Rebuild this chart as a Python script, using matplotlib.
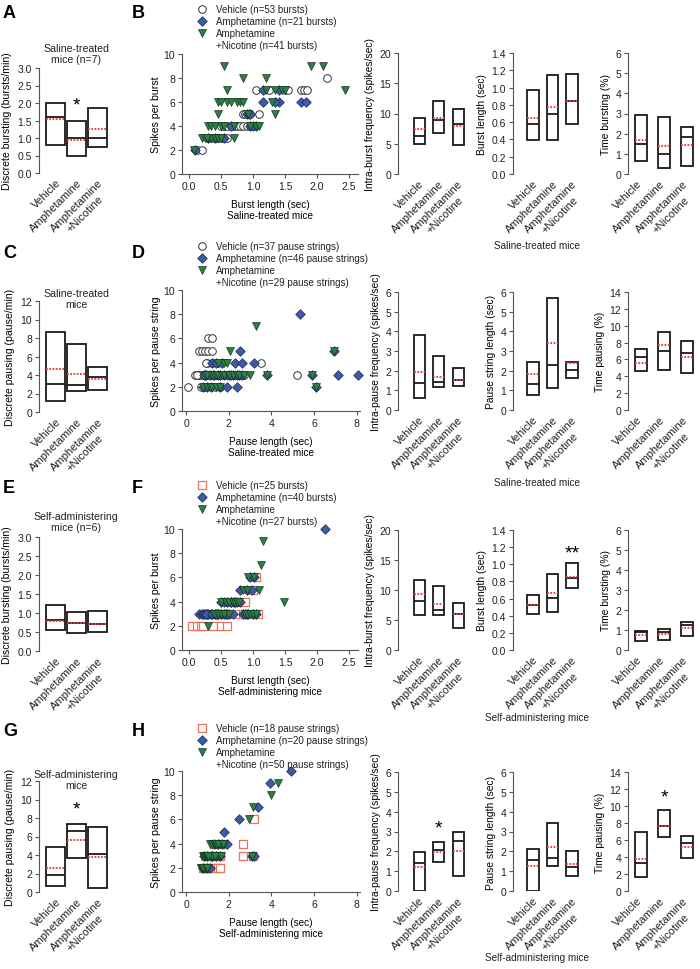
import numpy as np
import matplotlib
matplotlib.use("Agg")
import matplotlib.pyplot as plt
from matplotlib.lines import Line2D
from matplotlib.transforms import ScaledTranslation

plt.rcParams['font.family'] = ['Liberation Sans', 'DejaVu Sans']
plt.rcParams['text.color'] = '#222222'

# ---------------- data ----------------
groups = ['Vehicle', 'Amphetamine', 'Amphetamine\n+Nicotine']

# box panels: low, high, median, mean
A_low, A_high, A_med, A_mean = [0.8, 0.5, 0.75], [2.0, 1.5, 1.87], [1.6, 1.0, 1.0], [1.55, 0.95, 1.27]
C_low, C_high, C_med, C_mean = [1.2, 2.3, 2.4], [8.6, 7.3, 4.9], [3.0, 2.9, 3.8], [4.6, 4.1, 3.6]
E_low, E_high, E_med, E_mean = [0.55, 0.47, 0.5], [1.2, 1.03, 1.05], [0.82, 0.75, 0.7], [0.78, 0.75, 0.72]
G_low, G_high, G_med, G_mean = [0.6, 3.7, 0.4], [4.9, 7.3, 7.0], [1.8, 6.6, 4.1], [2.6, 5.6, 3.8]

# saline, bursts
sb_freq = ([5.0, 6.7, 4.8], [9.2, 12.0, 10.8], [6.2, 8.9, 8.3], [7.5, 9.2, 7.9])
sb_len = ([0.39, 0.39, 0.58], [0.97, 1.14, 1.16], [0.58, 0.70, 0.85], [0.65, 0.77, 0.85])
sb_time = ([0.65, 0.32, 0.42], [2.95, 2.83, 2.35], [1.47, 1.0, 1.85], [1.68, 1.37, 1.45])
# saline, pauses
sp_freq = ([0.6, 1.15, 1.2], [3.8, 2.75, 2.15], [1.35, 1.4, 1.55], [1.95, 1.7, 1.55])
sp_len = ([0.75, 1.1, 1.65], [2.45, 5.7, 2.45], [1.3, 2.28, 2.02], [1.85, 3.4, 2.4])
sp_time = ([4.6, 4.8, 4.4], [7.2, 9.2, 8.2], [6.3, 7.0, 6.75], [5.6, 7.7, 6.3])
# self-administering, bursts
ab_freq = ([5.9, 5.9, 3.7], [11.7, 10.6, 7.8], [8.2, 6.6, 6.0], [9.3, 7.6, 6.0])
ab_len = ([0.42, 0.44, 0.72], [0.64, 0.89, 1.01], [0.53, 0.61, 0.84], [0.52, 0.66, 0.85])
ab_time = ([0.45, 0.5, 0.7], [0.95, 1.05, 1.38], [0.9, 0.88, 1.25], [0.75, 0.78, 1.08])
# self-administering, pauses
ap_freq = ([0.0, 1.45, 0.75], [1.95, 2.45, 2.95], [1.4, 2.05, 2.5], [1.2, 1.95, 2.0])
ap_len = ([0.0, 1.25, 0.75], [2.1, 3.42, 2.02], [1.55, 1.65, 1.2], [1.25, 2.2, 1.35])
ap_time = ([1.6, 6.3, 3.9], [6.9, 9.5, 6.5], [3.3, 7.6, 5.6], [3.8, 7.6, 5.2])

# scatter B (burst length, spikes per burst), saline
B_veh_x = [0.13, 0.2, 0.3, 0.35, 0.4, 0.45, 0.5, 0.55, 0.6, 0.5, 0.55, 0.6, 0.65, 0.7, 0.75, 0.8,
           0.85, 0.9, 0.95, 0.85, 0.9, 0.95, 1.1, 1.05, 1.25, 1.5, 1.55, 1.75, 1.8, 1.85, 2.15, 0.88, 0.92]
B_veh_y = [2, 2, 3, 3, 3, 3, 3, 3, 3, 4, 4, 4, 4, 4, 4, 4,
           4, 4, 4, 5, 5, 5, 5, 7, 7, 7, 7, 7, 7, 7, 8, 5, 5]
B_amp_x = [0.1, 0.55, 0.65, 0.95, 1.0, 1.05, 0.9, 0.93, 1.15, 1.4, 1.75, 1.82, 1.15, 1.4, 0.3, 0.4, 0.95, 1.35]
B_amp_y = [2, 3, 4, 4, 4, 4, 5, 5, 6, 6, 6, 6, 7, 7, 3, 3, 5, 6]
B_an_x = [0.07, 0.2, 0.25, 0.3, 0.35, 0.4, 0.45, 0.5, 0.7, 0.3, 0.35, 0.4, 0.5, 0.55, 1.05, 1.1, 0.95,
          0.45, 0.92, 0.6, 0.65, 0.75, 0.8, 0.85, 0.45, 0.5, 1.3, 0.6, 1.2, 1.35, 1.45, 2.43, 0.85, 1.2,
          1.35, 0.55, 1.9, 2.1, 0.7, 1.5, 0.28]
B_an_y = [2, 3, 3, 3, 3, 3, 3, 3, 3, 4, 4, 4, 4, 4, 4, 4, 4,
          5, 5, 6, 6, 6, 6, 6, 6, 6, 6, 7, 7, 7, 7, 7, 8, 8,
          5, 9, 9, 9, 4, 7, 3]

# scatter D (pause length, spikes per pause string), saline
D_veh_x = [0.1, 0.7, 0.9, 1.35, 1.6, 0.4, 0.55, 0.7, 0.85, 1.0, 1.2, 1.5, 1.7, 1.9, 2.0, 2.2, 2.5, 2.7,
           5.2, 1.0, 1.2, 1.5, 3.5, 0.6, 0.75, 0.9, 1.05, 1.2, 1.05, 1.2, 0.8, 1.1, 2.6, 0.95, 0.5, 1.4, 2.3]
D_veh_y = [2, 2, 2, 2, 2, 3, 3, 3, 3, 3, 3, 3, 3, 3, 3, 3, 3, 3,
           3, 4, 4, 4, 4, 5, 5, 5, 5, 5, 6, 6, 3, 3, 3, 4, 3, 3, 3]
D_amp_x = [0.8, 1.0, 1.15, 1.6, 1.9, 2.4, 6.1, 0.9, 0.95, 1.1, 1.3, 1.5, 1.6, 1.8, 2.0, 2.2, 2.4, 2.6,
           3.8, 5.9, 7.1, 8.05, 1.2, 1.4, 1.7, 2.3, 2.6, 3.2, 2.55, 6.95, 5.35, 0.85, 1.25, 2.1, 2.5]
D_amp_y = [2, 2, 2, 2, 2, 2, 2, 3, 3, 3, 3, 3, 3, 3, 3, 3, 3, 3,
           3, 3, 3, 3, 4, 4, 4, 4, 4, 4, 5, 5, 8, 3, 3, 3, 3]
D_an_x = [0.8, 1.0, 1.1, 1.2, 1.4, 1.6, 6.1, 0.9, 1.0, 1.2, 1.3, 1.4, 1.5, 1.7, 1.8, 2.0, 2.2, 2.4,
          2.5, 2.7, 3.0, 3.8, 5.9, 1.5, 1.8, 1.9, 2.05, 6.95, 3.3]
D_an_y = [2, 2, 2, 2, 2, 2, 2, 3, 3, 3, 3, 3, 3, 3, 3, 3, 3, 3,
          3, 3, 3, 3, 3, 4, 4, 4, 5, 5, 7]

# scatter F (burst length, spikes per burst), self-administering
F_veh_x = [0.05, 0.12, 0.18, 0.22, 0.38, 0.5, 0.6, 0.25, 0.3, 0.35, 0.4, 0.45, 0.5, 0.55, 0.6, 0.78,
           0.85, 0.95, 1.05, 1.08, 0.65, 0.7, 0.88, 1.0, 1.05]
F_veh_y = [2, 2, 2, 2, 2, 2, 2, 3, 3, 3, 3, 3, 3, 3, 3, 3,
           3, 3, 3, 3, 4, 4, 4, 5, 6]
F_amp_x = [0.15, 0.2, 0.22, 0.25, 0.28, 0.3, 0.35, 0.4, 0.45, 0.5, 0.55, 0.58, 0.6, 0.62, 0.68, 0.85,
           0.88, 0.9, 0.92, 1.0, 1.05, 0.26, 0.44, 0.36, 0.5, 0.55, 0.6, 0.65, 0.66, 0.7, 0.72, 0.75,
           0.8, 0.8, 0.9, 0.98, 0.95, 1.02, 2.13, 0.42]
F_amp_y = [3, 3, 3, 3, 3, 3, 3, 3, 3, 3, 3, 3, 3, 3, 3, 3,
           3, 3, 3, 3, 3, 3, 3, 3, 4, 4, 4, 4, 4, 4, 4, 4,
           4, 5, 5, 5, 6, 6, 10, 3]
F_an_x = [0.3, 0.38, 0.4, 0.45, 0.5, 0.55, 0.62, 0.88, 0.9, 0.95, 1.0, 1.05, 0.5, 0.58, 0.62, 0.68,
          0.72, 0.75, 0.78, 1.48, 0.85, 0.9, 1.1, 0.92, 1.02, 1.12, 1.15]
F_an_y = [2, 3, 3, 3, 3, 3, 3, 3, 3, 3, 3, 3, 4, 4, 4, 4,
          4, 4, 4, 4, 5, 5, 5, 6, 6, 7, 9]

# scatter H (pause length, spikes per pause string), self-administering
H_veh_x = [0.8, 0.9, 1.0, 1.2, 1.4, 1.5, 1.6, 0.9, 1.1, 1.2, 1.4, 1.6, 2.65, 3.15, 1.3, 1.7, 2.65, 3.2]
H_veh_y = [2, 2, 2, 2, 2, 2, 2, 3, 3, 3, 3, 3, 3, 3, 4, 4, 4, 6]
H_amp_x = [0.8, 1.0, 1.1, 0.85, 1.0, 1.15, 1.2, 1.4, 1.6, 3.1, 3.2, 1.3, 1.5, 1.7, 1.9, 1.8, 2.5, 3.35, 3.95, 4.9]
H_amp_y = [2, 2, 2, 3, 3, 3, 3, 3, 3, 3, 3, 4, 4, 4, 4, 5, 6, 7, 9, 10]
H_an_x = [0.7, 0.72, 0.75, 0.8, 0.85, 0.88, 0.9, 0.95, 1.0, 1.05, 0.8, 0.85, 0.9, 0.95, 1.0, 1.05,
          1.1, 1.15, 1.2, 1.25, 1.3, 1.4, 1.45, 1.55, 1.6, 1.65, 3.1, 1.1, 1.2, 1.3, 1.35, 1.4, 1.5,
          1.6, 1.7, 1.8, 2.95, 3.15, 4.0, 4.3, 0.78, 0.92, 1.0, 1.12, 1.22, 1.5, 1.75, 0.98, 1.02, 1.35]
H_an_y = [2, 2, 2, 2, 2, 2, 2, 2, 2, 2, 3, 3, 3, 3, 3, 3,
          3, 3, 3, 3, 3, 3, 3, 3, 3, 3, 3, 4, 4, 4, 4, 4, 4,
          4, 4, 4, 6, 7, 8, 9, 2, 2, 3, 3, 3, 4, 4, 2, 3, 3]

B_leg = ['Vehicle (n=53 bursts)', 'Amphetamine (n=21 bursts)', 'Amphetamine', '+Nicotine (n=41 bursts)']
D_leg = ['Vehicle (n=37 pause strings)', 'Amphetamine (n=46 pause strings)', 'Amphetamine',
         '+Nicotine (n=29 pause strings)']
F_leg = ['Vehicle (n=25 bursts)', 'Amphetamine (n=40 bursts)', 'Amphetamine', '+Nicotine (n=27 bursts)']
H_leg = ['Vehicle (n=18 pause strings)', 'Amphetamine (n=20 pause strings)', 'Amphetamine',
         '+Nicotine (n=50 pause strings)']

# ---------------- drawing ----------------
W, H = 700, 970
fig = plt.figure(figsize=(7, 9.7), dpi=100)
DARK = '#1a1a1a'
AXC = '#555555'
RED = '#e8393a'
BLUE = '#3b5ba5'
GREEN = '#2d7d46'
SAL = '#e8735f'
TICK_FS = 8.0
LAB_FS = 7.6
SMALL_FS = 7.2


def px_axes(l, t, r, b):
    return fig.add_axes([l / W, 1 - b / H, (r - l) / W, (b - t) / H])


def px_text(x, y, s, **kw):
    fig.text(x / W, 1 - y / H, s, **kw)


def box_panel(ax, stats, ylim, yticks, fmt, ylabel, xlim, width, ylab_fs, lpad=4):
    low, high, med, mean = [np.array(v) for v in stats]
    pos = np.arange(1, len(low) + 1)
    ax.bar(pos, high - low, bottom=low, width=width, facecolor='white', edgecolor=DARK,
           linewidth=1.3, zorder=2)
    ax.hlines(med, pos - width / 2, pos + width / 2, color=DARK, lw=1.3, zorder=3)
    ax.hlines(mean, pos - width / 2, pos + width / 2, color=RED, lw=1.3,
              linestyles=(0, (1, 0.8)), zorder=4)
    ax.set_xlim(*xlim)
    ax.set_ylim(*ylim)
    ax.set_yticks(yticks, [fmt.format(v) for v in yticks])
    ax.set_xticks(pos, groups, rotation=45, ha='right', va='top', rotation_mode='anchor',
                  ma='center', fontsize=TICK_FS)
    for s in ['top', 'right', 'bottom']:
        ax.spines[s].set_visible(False)
    ax.spines['left'].set_color(AXC)
    ax.spines['left'].set_linewidth(0.8)
    ax.tick_params(axis='y', length=3, width=0.8, pad=2, labelsize=7.5, color=AXC,
                   labelcolor='#222')
    ax.tick_params(axis='x', length=0, pad=3, labelcolor='#222')
    ax.set_ylabel(ylabel, fontsize=ylab_fs, labelpad=lpad)
    ax.patch.set_alpha(0)


def scatter_panel(ax, veh, amp, an, veh_style, legend, leg_xy, xlim, xticks, fmt, xlabel, ylabel):
    if veh_style == 'circle':
        h1 = ax.scatter(*veh, marker='o', s=30, facecolor='white', edgecolor='#333', linewidth=0.7, zorder=3)
    else:
        h1 = ax.scatter(*veh, marker='s', s=26, facecolor='white', edgecolor=SAL, linewidth=0.9, zorder=3)
    h2 = ax.scatter(*amp, marker='D', s=24, facecolor=BLUE, edgecolor='#1a2a55', linewidth=0.5, zorder=4)
    h3 = ax.scatter(*an, marker='v', s=32, facecolor=GREEN, edgecolor='#143820', linewidth=0.5, zorder=5)
    blank = Line2D([], [], linestyle='none')
    fig.legend([h1, h2, h3, blank], legend, loc='upper left',
               bbox_to_anchor=(leg_xy[0] / W, 1 - leg_xy[1] / H), frameon=False, fontsize=7.0,
               borderpad=0, handlelength=1.0, handletextpad=1.0, labelspacing=0.2, borderaxespad=0)
    ax.set_xlim(*xlim)
    ax.set_ylim(0, 10)
    ax.set_xticks(xticks, [fmt.format(v) for v in xticks])
    ax.set_yticks([0, 2, 4, 6, 8, 10])
    for s in ['top', 'right']:
        ax.spines[s].set_visible(False)
    for s in ['left', 'bottom']:
        ax.spines[s].set_color(AXC)
        ax.spines[s].set_linewidth(0.8)
    ax.tick_params(length=3, width=0.8, pad=2, labelsize=7.5, color=AXC, labelcolor='#222')
    ax.set_xlabel(xlabel, fontsize=SMALL_FS, labelpad=6, linespacing=1.15)
    ax.set_ylabel(ylabel, fontsize=LAB_FS, labelpad=1.5)
    for c in ax.collections:
        c.set_clip_on(False)


burst_lab = ['Intra-burst frequency (spikes/sec)', 'Burst length (sec)', 'Time bursting (%)']
pause_lab = ['Intra-pause frequency (spikes/sec)', 'Pause string length (sec)', 'Time pausing (%)']
burst_ylims = [(0, 20), (0, 1.4), (0, 6)]
burst_ticks = [[0, 5, 10, 15, 20], [0, 0.2, 0.4, 0.6, 0.8, 1.0, 1.2, 1.4], [0, 1, 2, 3, 4, 5, 6]]
burst_fmt = ['{:g}', '{:.1f}', '{:g}']
pause_ylims = [(0, 6), (0, 6), (0, 14)]
pause_ticks = [[0, 1, 2, 3, 4, 5, 6], [0, 1, 2, 3, 4, 5, 6], [0, 2, 4, 6, 8, 10, 12, 14]]
pause_fmt = ['{:g}', '{:g}', '{:g}']

right_x = [(398, 468, (-0.08, 3.51), 0.56), (513, 583, (-0.03, 3.56), 0.58), (628, 695, (0.43, 3.34), 0.52)]

left_xlim = (0.21, 3.54)
rows = [
    dict(top=69, bot=174, ltop=55, lbot=175, stats=(A_low, A_high, A_med, A_mean), ylim=(0, 3),
         yt=[0, 0.5, 1, 1.5, 2, 2.5, 3], fmt='{:.1f}', ylab='Discrete bursting (bursts/min)',
         title='Saline-treated\nmice (n=7)', ttl_y=65, letter=('A', 'B'), let_y=14),
    dict(top=302, bot=413, ltop=291, lbot=412, stats=(C_low, C_high, C_med, C_mean), ylim=(0, 12),
         yt=[0, 2, 4, 6, 8, 10, 12], fmt='{:g}', ylab='Discrete pausing (pause/min)',
         title='Saline-treated\nmice', ttl_y=310, letter=('C', 'D'), let_y=254),
    dict(top=538, bot=652, ltop=530, lbot=651, stats=(E_low, E_high, E_med, E_mean), ylim=(0, 3),
         yt=[0, 0.5, 1, 1.5, 2, 2.5, 3], fmt='{:.1f}', ylab='Discrete bursting (bursts/min)',
         title='Self-administering\nmice (n=6)', ttl_y=533, letter=('E', 'F'), let_y=489),
    dict(top=782, bot=893, ltop=772, lbot=893, stats=(G_low, G_high, G_med, G_mean), ylim=(0, 12),
         yt=[0, 2, 4, 6, 8, 10, 12], fmt='{:g}', ylab='Discrete pausing (pause/min)',
         title='Self-administering\nmice', ttl_y=791, letter=('G', 'H'), let_y=732),
]

scatters = [
    ((B_veh_x, B_veh_y), (B_amp_x, B_amp_y), (B_an_x, B_an_y), 'circle', B_leg, (197, 5),
     (-0.11, 2.64), [0, 0.5, 1.0, 1.5, 2.0, 2.5], '{:.1f}', 'Burst length (sec)\nSaline-treated mice',
     'Spikes per burst', 358),
    ((D_veh_x, D_veh_y), (D_amp_x, D_amp_y), (D_an_x, D_an_y), 'circle', D_leg, (197, 242),
     (-0.19, 8.15), [0, 2, 4, 6, 8], '{:g}', 'Pause length (sec)\nSaline-treated mice',
     'Spikes per pause string', 360),
    ((F_veh_x, F_veh_y), (F_amp_x, F_amp_y), (F_an_x, F_an_y), 'square', F_leg, (197, 481),
     (-0.11, 2.64), [0, 0.5, 1.0, 1.5, 2.0, 2.5], '{:.1f}', 'Burst length (sec)\nSelf-administering mice',
     'Spikes per burst', 358),
    ((H_veh_x, H_veh_y), (H_amp_x, H_amp_y), (H_an_x, H_an_y), 'square', H_leg, (197, 724),
     (-0.19, 8.15), [0, 2, 4, 6, 8], '{:g}', 'Pause length (sec)\nSelf-administering mice',
     'Spikes per pause string', 360),
]

right_stats = [(sb_freq, sb_len, sb_time), (sp_freq, sp_len, sp_time),
               (ab_freq, ab_len, ab_time), (ap_freq, ap_len, ap_time)]
right_tops = [(54, 175), (293, 411), (531, 651), (773, 892)]
group_lab = [('Saline-treated mice', 246), ('Saline-treated mice', 483),
             ('Self-administering mice', 718), ('Self-administering mice', 958)]

# nudge the last panel's rotated labels left so they stay inside the figure
nudge = ScaledTranslation(-4 / 100, 0, fig.dpi_scale_trans)

right_axes = []
for i, row in enumerate(rows):
    ax = px_axes(39, row['top'], 109, row['bot'])
    box_panel(ax, row['stats'], row['ylim'], row['yt'], row['fmt'], row['ylab'], left_xlim, 0.88, LAB_FS)
    px_text(76, row['ttl_y'], row['title'], ha='center', va='bottom', fontsize=LAB_FS, linespacing=1.1)
    px_text(3, row['let_y'], row['letter'][0], fontsize=13, fontweight='bold', va='center', color='black')
    px_text(132, row['let_y'], row['letter'][1], fontsize=13, fontweight='bold', va='center', color='black')
    row['ax'] = ax

    sc = scatters[i]
    sax = px_axes(182, row['ltop'], sc[11], row['lbot'])
    scatter_panel(sax, *sc[:11])

    labs = burst_lab if i % 2 == 0 else pause_lab
    ylims = burst_ylims if i % 2 == 0 else pause_ylims
    ticks = burst_ticks if i % 2 == 0 else pause_ticks
    fmts = burst_fmt if i % 2 == 0 else pause_fmt
    t, b = right_tops[i]
    axes_row = []
    for j in range(3):
        l, r, xl, bw = right_x[j]
        rax = px_axes(l, t, r, b)
        box_panel(rax, right_stats[i][j], ylims[j], ticks[j], fmts[j], labs[j], xl, bw, 7.4, lpad=3)
        axes_row.append(rax)
    for lbl in axes_row[2].get_xticklabels():
        lbl.set_transform(lbl.get_transform() + nudge)
    right_axes.append(axes_row)
    px_text(537, group_lab[i][1], group_lab[i][0], ha='center', va='center', fontsize=SMALL_FS)

# significance marks
star = dict(ha='center', va='center', fontsize=14, color='black')
rows[0]['ax'].text(2, 1.95, '*', **star)
rows[3]['ax'].text(2, 9.0, '*', **star)
right_axes[2][1].text(3, 1.13, '**', **star)
right_axes[3][0].text(2, 3.2, '*', **star)
right_axes[3][2].text(2, 11.1, '*', **star)

fig.savefig('out.png', dpi=100)
